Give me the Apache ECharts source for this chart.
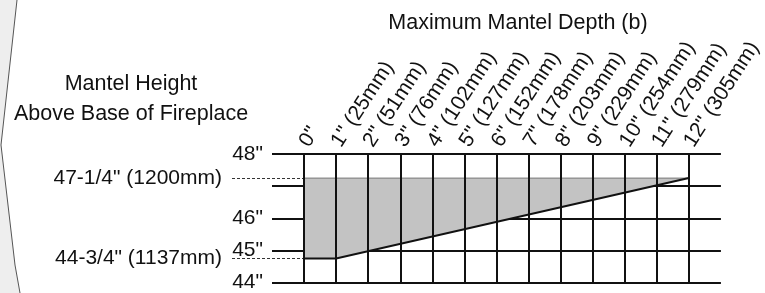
<!DOCTYPE html>
<html>
<head>
<meta charset="utf-8">
<script src="https://cdn.jsdelivr.net/npm/echarts@6/dist/echarts.min.js"></script>
<style>
html,body{margin:0;padding:0;background:#fff;}
#c{width:765px;height:293px;}
</style>
</head>
<body>
<div id="c"></div>
<script>
// ---- data ----
const depthValues = [0,1,2,3,4,5,6,7,8,9,10,11,12];
const depthLabels = ['0"','1" (25mm)','2" (51mm)','3" (76mm)','4" (102mm)','5" (127mm)','6" (152mm)','7" (178mm)','8" (203mm)','9" (229mm)','10" (254mm)','11" (279mm)','12" (305mm)'];
const heightTickValues = [44,45,46,48];
const heightTickLabels = ['44"','45"','46"','48"'];
const refHeights = [44.75, 47.25];
const refLabels = ['44-3/4" (1137mm)', '47-1/4" (1200mm)'];
// allowed zone polygon (depth, height)
const zoneDepth  = [0, 12, 1, 0];
const zoneHeight = [47.25, 47.25, 44.75, 44.75];

const FONT = "'Liberation Sans', Arial, sans-serif";
const chart = echarts.init(document.getElementById('c'), null, {renderer:'canvas'});

const option = {
  backgroundColor: '#fff',
  animation: false,
  title: [
    {text: 'Maximum Mantel Depth (b)', left: 513, top: 7, textAlign: 'center',
     textStyle: {fontFamily: FONT, fontSize: 21.5, fontWeight: 'normal', color: '#111'}},
    {text: 'Mantel Height\nAbove Base of Fireplace', left: 126, top: 64, textAlign: 'center',
     textStyle: {fontFamily: FONT, fontSize: 21.5, fontWeight: 'normal', color: '#111', lineHeight: 30}}
  ],
  grid: {left: 272, right: 42, top: 154, bottom: 9, containLabel: false},
  xAxis: {
    type: 'value', position: 'top', min: -1, max: 13, interval: 1,
    axisLine: {show: false}, axisTick: {show: false}, splitLine: {show: false},
    axisLabel: {
      rotate: -57, margin: 9, fontFamily: FONT, fontSize: 21, color: '#111',
      showMinLabel: false, showMaxLabel: false,
      formatter: function (v) { const i = depthValues.indexOf(v); return i >= 0 ? depthLabels[i] : ''; }
    }
  },
  yAxis: [
    {
      type: 'value', min: 44, max: 48, interval: 1,
      axisLine: {show: false}, axisTick: {show: false},
      splitLine: {show: true, lineStyle: {color: '#111', width: 2}},
      axisLabel: {
        customValues: heightTickValues, margin: 9, fontFamily: FONT, fontSize: 21, color: '#111',
        formatter: function (v) { const i = heightTickValues.indexOf(v); return i >= 0 ? heightTickLabels[i] : ''; }
      }
    },
    {
      type: 'value', min: 44, max: 48, position: 'left', offset: 40,
      axisLine: {show: false}, splitLine: {show: false},
      axisTick: {show: true, inside: true, length: 73, customValues: refHeights,
                 lineStyle: {color: '#333', width: 1, type: [3, 2]}},
      axisLabel: {
        customValues: refHeights, margin: 10, fontFamily: FONT, fontSize: 21, color: '#111',
        formatter: function (v) { const i = refHeights.indexOf(v); return i >= 0 ? refLabels[i] : ''; }
      }
    }
  ],
  series: [
    {
      type: 'custom',
      coordinateSystem: 'cartesian2d',
      xAxisIndex: 0, yAxisIndex: 0,
      data: [[zoneDepth[0], zoneHeight[0]]],
      z: 1,
      renderItem: function (params, api) {
        const pts = zoneDepth.map((d, i) => api.coord([d, zoneHeight[i]]));
        return {
          type: 'group',
          children: [
            {type: 'polygon', shape: {points: pts}, style: {fill: '#c3c3c3', stroke: null}},
            {type: 'polyline', shape: {points: [pts[0], pts[1]]}, style: {stroke: '#777', lineWidth: 1, fill: null}},
            {type: 'polyline', shape: {points: [pts[1], pts[2], pts[3]]}, style: {stroke: '#111', lineWidth: 2, fill: null}}
          ]
        };
      }
    },
    {
      type: 'line', data: [], z: 3,
      markLine: {
        silent: true, symbol: ['none', 'none'], label: {show: false},
        lineStyle: {color: '#111', width: 2, type: 'solid'},
        data: depthValues.map(v => ({xAxis: v}))
      }
    }
  ],
  graphic: [
    {type: 'polygon', shape: {points: [[0,0],[17,0],[1,145],[15,265],[20,293],[0,293]]},
     style: {fill: '#eeeeee', stroke: null}, z: 0},
    {type: 'polyline', shape: {points: [[17,0],[1,145],[15,265],[20,293]]},
     style: {stroke: '#555', lineWidth: 1, fill: null}, z: 1}
  ]
};
chart.setOption(option);
</script>
</body>
</html>
